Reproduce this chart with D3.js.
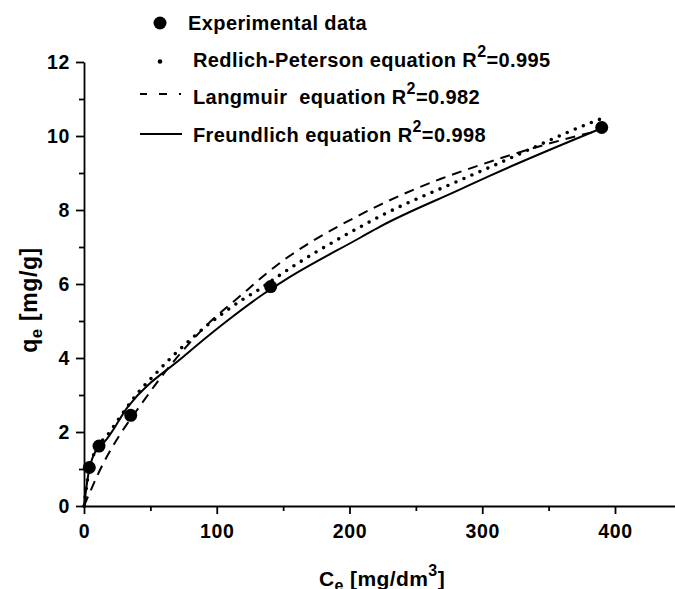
<!DOCTYPE html>
<html>
  <head>
    <script src="https://cdnjs.cloudflare.com/ajax/libs/d3/7.8.5/d3.min.js"></script>
<style>
  body { margin: 0; background: #fff; }
  svg text { font-family: Arial, "Liberation Sans", sans-serif; font-weight: bold; fill: #000; }
</style>
  </head>
  <body>
    <div id="vis"></div>
    <script type="text/javascript">

        // experimental points
        const expC = [4, 11.3, 35.2, 140.6, 390];
        const expQ = [1.04, 1.62, 2.45, 5.93, 10.23];

        // curves
        const rpC = [0, 4, 11, 19, 26.5, 32.6, 40, 53, 66.5, 80, 93, 105.5, 119, 133, 145, 212, 223, 283, 306, 384, 392];
        const rpQ = [0, 1.0, 1.62, 1.98, 2.37, 2.68, 3.03, 3.54, 4.04, 4.49, 4.89, 5.23, 5.57, 5.88, 6.18, 7.62, 7.83, 8.8, 9.16, 10.39, 10.5];
        const lgC = [0, 14.5, 27.3, 42.7, 56.5, 90, 123, 137.6, 207.9, 223, 269.4, 285.7, 373.6, 386];
        const lgQ = [0, 1.15, 1.94, 2.73, 3.41, 4.8, 5.84, 6.29, 7.87, 8.14, 8.85, 9.06, 10.02, 10.13];
        const frC = [0, 4, 11, 15, 33, 75, 105.5, 136, 151, 208, 223, 283, 306, 390];
        const frQ = [0, 1.0, 1.6, 1.72, 2.68, 4.04, 4.94, 5.75, 6.1, 7.25, 7.55, 8.55, 8.93, 10.21];

        const xMajor = [0, 100, 200, 300, 400];
        const xMinor = [50, 150, 250, 350];
        const yMajor = [0, 2, 4, 6, 8, 10, 12];
        const yMinor = [1, 3, 5, 7, 9, 11];

        const width = 675;
        const height = 589;
        const svg = d3.select("#vis").append("svg")
            .attr("width", width)
            .attr("height", height);

        var xScale = d3.scaleLinear().domain([0, 445]).range([84, 84 + 445 * 531 / 400]);
        var yScale = d3.scaleLinear().domain([0, 12]).range([506, 62]);

        // axes
        var xAxis = d3.axisBottom(xScale).tickValues(xMajor).tickSize(8).tickSizeOuter(0).tickPadding(10);
        var yAxis = d3.axisLeft(yScale).tickValues(yMajor).tickSize(8).tickSizeOuter(0).tickPadding(6);
        svg.append("g").attr("transform", "translate(0," + yScale(0) + ")").call(xAxis);
        svg.append("g").attr("transform", "translate(0," + yScale(0) + ")")
            .call(d3.axisBottom(xScale).tickValues(xMinor).tickSize(5).tickFormat(""))
            .select(".domain").remove();
        svg.append("g").attr("transform", "translate(" + xScale(0) + ",0)").call(yAxis);
        svg.append("g").attr("transform", "translate(" + xScale(0) + ",0)")
            .call(d3.axisLeft(yScale).tickValues(yMinor).tickSize(5).tickFormat(""))
            .select(".domain").remove();
        svg.selectAll(".domain, .tick line").attr("stroke", "#000").attr("stroke-width", 1.8);
        svg.selectAll(".tick text").attr("font-size", 19.5).attr("font-family", null)
            .attr("letter-spacing", 0.6);

        // axis titles
        var xt = svg.append("text").attr("x", 382).attr("y", 586).attr("text-anchor", "middle")
            .attr("font-size", 21).attr("letter-spacing", 0.4);
        xt.append("tspan").text("C");
        xt.append("tspan").attr("font-size", 16).attr("dy", 5).text("e");
        xt.append("tspan").attr("dy", -5).text(" [mg/dm");
        xt.append("tspan").attr("font-size", 16).attr("dy", -10).text("3");
        xt.append("tspan").attr("dy", 10).text("]");

        var yt = svg.append("text").attr("transform", "translate(37,300) rotate(-90)")
            .attr("text-anchor", "middle").attr("font-size", 23).attr("letter-spacing", 0.6);
        yt.append("tspan").text("q");
        yt.append("tspan").attr("font-size", 17).attr("dy", 5).text("e");
        yt.append("tspan").attr("dy", -5).text(" [mg/g]");

        // curves
        function curve(cs, qs) {
            return d3.line().curve(d3.curveMonotoneX)
                .x(d => xScale(d[0])).y(d => yScale(d[1]))(d3.zip(cs, qs));
        }
        svg.append("path").attr("d", curve(frC, frQ))
            .attr("fill", "none").attr("stroke", "#000").attr("stroke-width", 2);
        svg.append("path").attr("d", curve(lgC, lgQ))
            .attr("fill", "none").attr("stroke", "#000").attr("stroke-width", 2)
            .attr("stroke-dasharray", "10 7");
        svg.append("path").attr("d", curve(rpC, rpQ))
            .attr("fill", "none").attr("stroke", "#000").attr("stroke-width", 3.6)
            .attr("stroke-linecap", "round").attr("stroke-dasharray", "0 8.7");

        svg.append("g").selectAll("circle")
            .data(d3.zip(expC, expQ))
            .join("circle")
            .attr("cx", d => xScale(d[0]))
            .attr("cy", d => yScale(d[1]))
            .attr("r", 6.5)
            .attr("fill", "#000");

        // legend
        const leg = svg.append("g");
        leg.append("circle").attr("cx", 160).attr("cy", 23).attr("r", 6.5).attr("fill", "#000");
        leg.append("circle").attr("cx", 160).attr("cy", 61.5).attr("r", 2.3).attr("fill", "#000");
        leg.append("line").attr("x1", 140).attr("x2", 182).attr("y1", 94).attr("y2", 94)
            .attr("stroke", "#000").attr("stroke-width", 2).attr("stroke-dasharray", "7 12 8 12 2 20");
        leg.append("line").attr("x1", 140).attr("x2", 182).attr("y1", 134).attr("y2", 134)
            .attr("stroke", "#000").attr("stroke-width", 2);

        const legText = [
            ["Experimental data", null, 188, 30],
            ["Redlich-Peterson equation R", "=0.995", 193, 67],
            ["Langmuir  equation R", "=0.982", 193, 104],
            ["Freundlich equation R", "=0.998", 193, 141.5]
        ];
        legText.forEach(t => {
            var tx = leg.append("text").attr("x", t[2]).attr("y", t[3])
                .attr("font-size", 20).attr("letter-spacing", 0.4).style("white-space", "pre");
            tx.append("tspan").text(t[0]);
            if (t[1]) {
                tx.append("tspan").attr("font-size", 16).attr("dy", -10).text("2");
                tx.append("tspan").attr("dy", 10).text(t[1]);
            }
        });

    </script>
  </body>
</html>
